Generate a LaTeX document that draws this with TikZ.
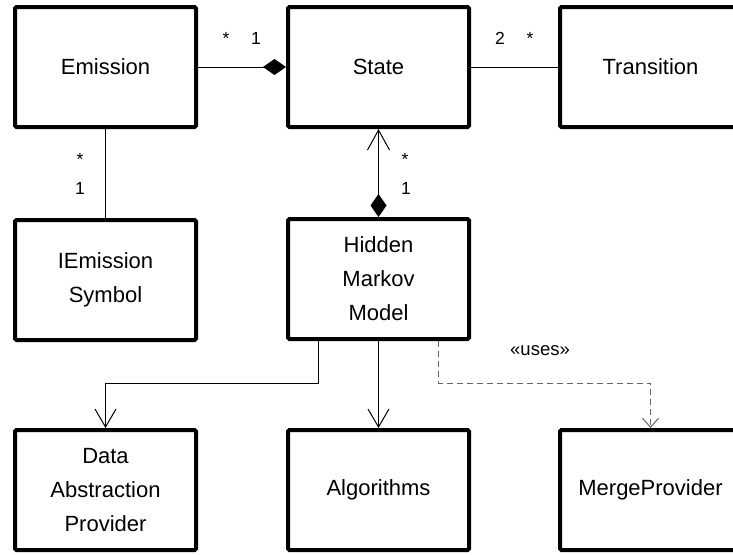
\documentclass[tikz,border=0pt]{standalone}
\usepackage{fontspec}
\setmainfont{Liberation Sans}
\usetikzlibrary{arrows.meta}

\begin{document}
\begin{tikzpicture}[
    x=1pt, y=-1pt,
    umlbox/.style={draw, line width=4pt, rounded corners=1.5pt, minimum width=181pt,
        minimum height=120pt, inner sep=0pt, align=center,
        font=\fontsize{22}{34}\selectfont},
    mult/.style={anchor=base, inner sep=0pt, font=\fontsize{17.5}{20}\selectfont},
    assoc/.style={line width=1pt},
    comp/.style={line width=1pt, -{Diamond[length=23pt,width=16pt]}},
    dep/.style={line width=1pt, -{Straight Barb[length=18pt,width=21pt]}},
    uses/.style={line width=1pt, gray!80!black, dash pattern=on 6pt off 4pt,
        -{Straight Barb[length=9pt,width=16pt]}}
]
\useasboundingbox (0,0) rectangle (733,554);

% Top row
\node[umlbox] (emission) at (105.5,67) {Emission};
\node[umlbox] (state) at (378.5,67) {State};
\node[umlbox] (transition) at (650.5,67) {Transition};

% Middle row
\node[umlbox] (symbol) at (105.5,280) {IEmission\\Symbol};
\node[umlbox] (hmm) at (378.5,279) {Hidden\\Markov\\Model};

% Bottom row
\node[umlbox] (data) at (105.5,490) {Data\\Abstraction\\Provider};
\node[umlbox] (algo) at (378.5,490) {Algorithms};
\node[umlbox] (merge) at (650.5,490) {MergeProvider};

% Associations
\draw[comp] (emission) -- (state);
\draw[assoc] (state) -- (transition);
\draw[assoc] (emission) -- (symbol);
\draw[line width=1pt, {Straight Barb[length=20pt,width=22pt]}-{Diamond[length=23pt,width=16pt]}] (state) -- (hmm);

\node[mult] (m1) at (226,44) {*};
\node[mult] (m2) at (256,44) {1};
\node[mult] (m3) at (500,44) {2};
\node[mult] (m4) at (530,44) {*};
\node[mult] (m5) at (80,165) {*};
\node[mult] (m6) at (80,194) {1};
\node[mult] (m7) at (405,165) {*};
\node[mult] (m8) at (406,194) {1};

% Dependencies
\draw[dep] ([xshift=-60pt]hmm.south) -- ++(0,42) -| (data.north);
\draw[dep] (hmm) -- (algo);
\draw[uses] ([xshift=60pt]hmm.south) -- ++(0,42) -| (merge.north);
\node[inner sep=0pt, font=\fontsize{18.5}{22}\selectfont] (usesl) at (540,351) {«uses»};

\end{tikzpicture}
\end{document}
